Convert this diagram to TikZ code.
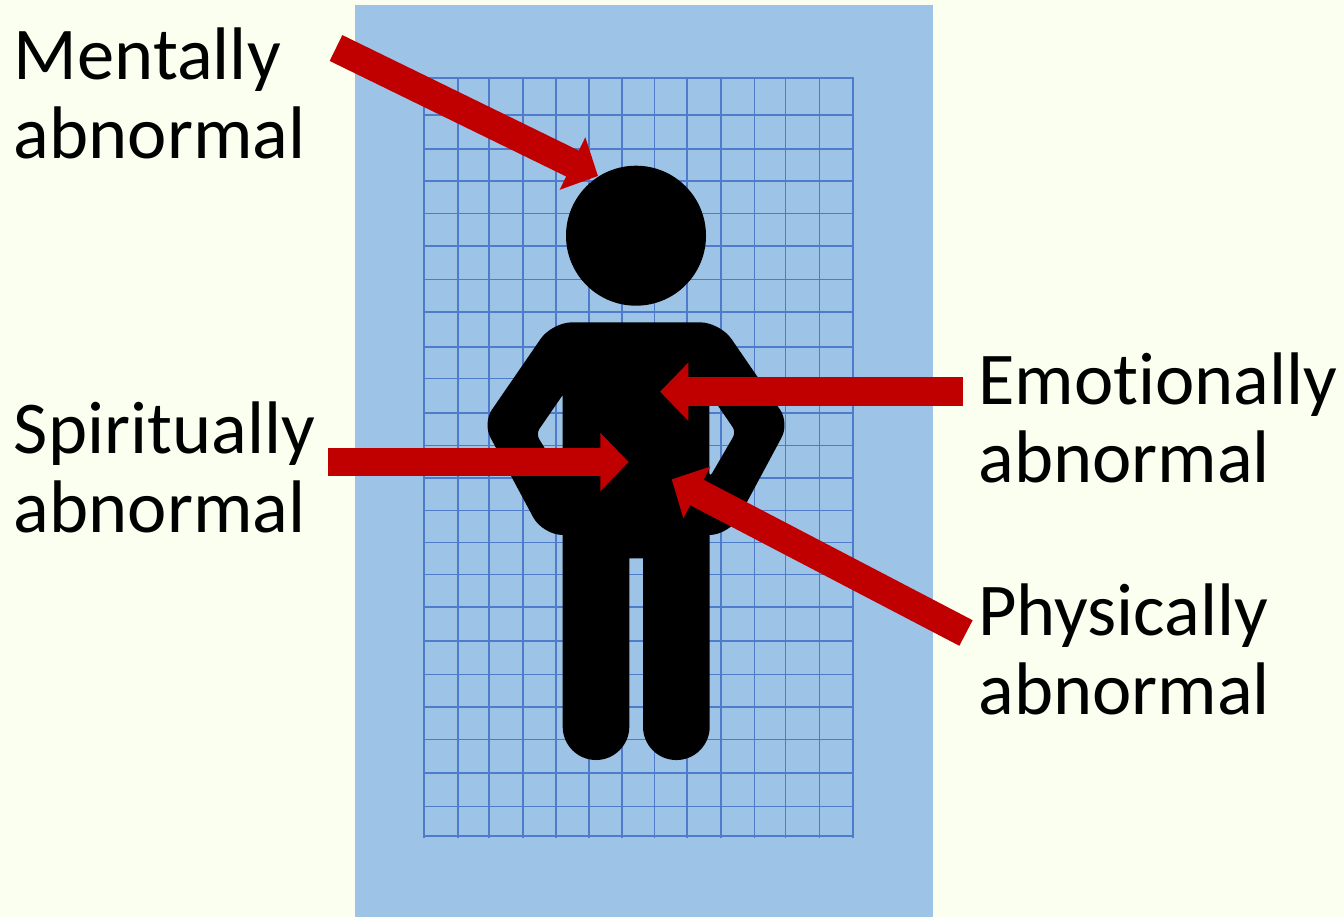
\documentclass[tikz,border=0pt]{standalone}
\usepackage{fontspec}
\setmainfont[Ligatures=NoCommon]{Carlito}
\usetikzlibrary{arrows.meta}
\definecolor{pagebg}{HTML}{FBFFF0}
\definecolor{panelblue}{HTML}{9DC3E6}
\definecolor{gridblue}{HTML}{4F7BCB}
\definecolor{arrowred}{HTML}{C00000}

\begin{document}
\begin{tikzpicture}[x=0.5pt, y=-0.5pt,
    label/.style={anchor=north west, inner sep=0pt, align=left, font=\fontsize{37.25}{39.3}\selectfont},
    gridline/.style={gridblue, line width=0.8pt},
    bigarrow/.style={arrowred, line width=14.4pt, -{Triangle[length=14.2pt, width=28.4pt]}}]
    \useasboundingbox (0,0) rectangle (1344,917);
    \fill[pagebg] (0,0) rectangle (1344,917);
    \fill[panelblue] (355,5) rectangle (933,917);
    \foreach \x in {424,457.7,488.7,522.7,555.7,588.7,621.7,654.3,686.7,720.7,754.3,785.3,819.3,852.7}
        \draw[gridline] (\x,77.7) -- (\x,838);
    \foreach \y in {77.7,115,148.7,181,213.3,245.7,279.3,311.7,347,378.3,413,445.3,477.7,510.3,542.3,574.3,607,640.7,674.3,706.7,739.3,773,806.3,835.7}
        \draw[gridline] (424,\y) -- (853.5,\y);
    \fill (636,235.7) circle (70);
    \fill[even odd rule, rounded corners=10pt]
        (636,322.3) -- (552,322.3)
        [rounded corners=8pt] -- (482.7,423.1)
        [rounded corners=10pt] -- (542.7,535)
        [sharp corners] -- (562.7,535) -- (562.7,726.7) arc (180:0:33.3)
        -- (629.3,558.3) -- (643,558.3) -- (643,726.7) arc (180:0:33.35)
        -- (709.7,535)
        [rounded corners=10pt] -- (729.3,535)
        [rounded corners=8pt] -- (789.3,423.1)
        [rounded corners=10pt] -- (720,322.3) -- cycle
        [rounded corners=3pt]
        (562.7,395) -- (536,433.8) -- (562.7,478) [sharp corners] -- cycle
        [rounded corners=3pt]
        (709.3,393) -- (736,432) -- (709.3,478) [sharp corners] -- cycle;
    \coordinate (mentaltail) at (336,48);
    \coordinate (mentaltip) at (598,176);
    \coordinate (emotiontail) at (963,391.7);
    \coordinate (emotiontip) at (660,391.7);
    \coordinate (spirittail) at (328,462);
    \coordinate (spirittip) at (628.7,462);
    \coordinate (physicaltail) at (966,633);
    \coordinate (physicaltip) at (671.7,479.3);
    \draw[bigarrow] (mentaltail) -- (mentaltip);
    \draw[bigarrow] (emotiontail) -- (emotiontip);
    \draw[bigarrow] (spirittail) -- (spirittip);
    \draw[bigarrow] (physicaltail) -- (physicaltip);
    \node[label] (mental) at (13.5,27.5) {Mentally\\abnormal};
    \node[label] (spirit) at (13.5,401.5) {Spiritually\\abnormal};
    \node[label] (emotion) at (978,352) {Emotionally\\abnormal};
    \node[label] (physical) at (978,583.5) {Physically\\abnormal};
\end{tikzpicture}
\end{document}
